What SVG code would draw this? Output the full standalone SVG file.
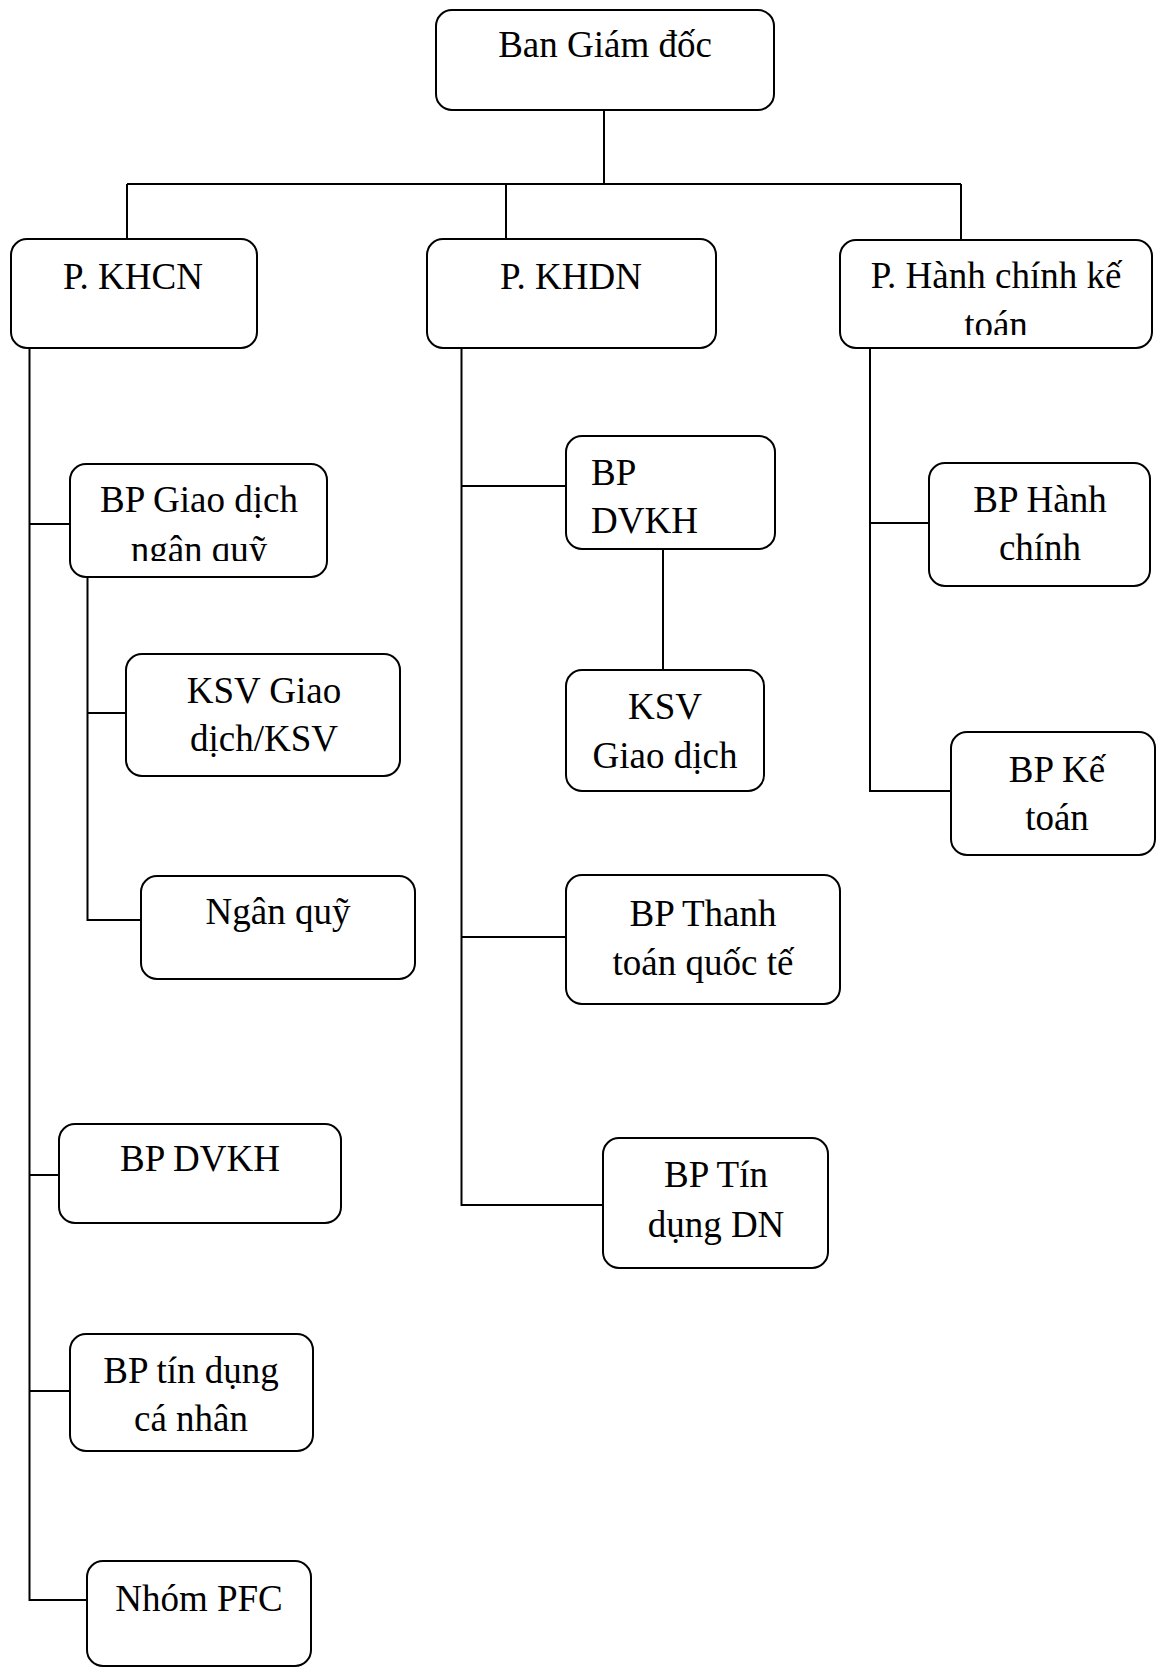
<svg xmlns="http://www.w3.org/2000/svg" width="1157" height="1668" viewBox="0 0 1157 1668">
<style>
.box{fill:#fff;stroke:#000;stroke-width:2}
.c{fill:none;stroke:#000;stroke-width:2}
text{font-family:"Liberation Serif","Times New Roman",serif;font-size:37px;fill:#000}
.m{text-anchor:middle}
</style>
<defs>
<clipPath id="clipGD"><rect x="70" y="464" width="257" height="97"/></clipPath>
<clipPath id="clipHC"><rect x="840" y="240" width="312" height="95"/></clipPath>
</defs>
<rect width="1157" height="1668" fill="#fff"/>
<g id="connectors">
<path class="c" d="M604,110 V184 M127,184 H961 M127,184 V239 M506,184 V239 M961,184 V240"/>
<path class="c" d="M29.5,348 V1600 H87 M29.5,524 H70 M29.5,1175 H59 M29.5,1391 H70"/>
<path class="c" d="M87.5,577 V920 H141 M87.5,713 H126"/>
<path class="c" d="M461.5,348 V1205 H603 M461.5,486 H566 M461.5,937 H566"/>
<path class="c" d="M663,549 V670"/>
<path class="c" d="M870,348 V791 H951 M870,523 H929"/>
</g>
<g id="ban-giam-doc">
<rect class="box" x="436" y="10" width="338" height="100" rx="16"/>
<text class="m" x="605" y="57">Ban Giám đốc</text>
</g>
<g id="p-khcn">
<rect class="box" x="11" y="239" width="246" height="109" rx="16"/>
<text class="m" x="133" y="289">P. KHCN</text>
</g>
<g id="p-khdn">
<rect class="box" x="427" y="239" width="289" height="109" rx="16"/>
<text class="m" x="571" y="289">P. KHDN</text>
</g>
<g id="p-hanh-chinh-ke-toan">
<rect class="box" x="840" y="240" width="312" height="108" rx="16"/>
<g clip-path="url(#clipHC)">
<text class="m" x="996" y="288">P. Hành chính kế</text>
<text class="m" x="996" y="337">toán</text>
</g>
</g>
<g id="bp-giao-dich-ngan-quy">
<rect class="box" x="70" y="464" width="257" height="113" rx="16"/>
<g clip-path="url(#clipGD)">
<text class="m" x="199" y="512">BP Giao dịch</text>
<text class="m" x="199" y="562">ngân quỹ</text>
</g>
</g>
<g id="ksv-giao-dich-ksv">
<rect class="box" x="126" y="654" width="274" height="122" rx="16"/>
<text class="m" x="264" y="703">KSV Giao</text>
<text class="m" x="264" y="751">dịch/KSV</text>
</g>
<g id="ngan-quy">
<rect class="box" x="141" y="876" width="274" height="103" rx="16"/>
<text class="m" x="278" y="924">Ngân quỹ</text>
</g>
<g id="bp-dvkh-khcn">
<rect class="box" x="59" y="1124" width="282" height="99" rx="16"/>
<text class="m" x="200" y="1171">BP DVKH</text>
</g>
<g id="bp-tin-dung-ca-nhan">
<rect class="box" x="70" y="1334" width="243" height="117" rx="16"/>
<text class="m" x="191" y="1383">BP tín dụng</text>
<text class="m" x="191" y="1431">cá nhân</text>
</g>
<g id="nhom-pfc">
<rect class="box" x="87" y="1561" width="224" height="105" rx="16"/>
<text class="m" x="199" y="1611">Nhóm PFC</text>
</g>
<g id="bp-dvkh-khdn">
<rect class="box" x="566" y="436" width="209" height="113" rx="16"/>
<text x="591" y="485">BP</text>
<text x="591" y="533">DVKH</text>
</g>
<g id="ksv-giao-dich">
<rect class="box" x="566" y="670" width="198" height="121" rx="16"/>
<text class="m" x="665" y="719">KSV</text>
<text class="m" x="665" y="768">Giao dịch</text>
</g>
<g id="bp-thanh-toan-quoc-te">
<rect class="box" x="566" y="875" width="274" height="129" rx="16"/>
<text class="m" x="703" y="926">BP Thanh</text>
<text class="m" x="703" y="975">toán quốc tế</text>
</g>
<g id="bp-tin-dung-dn">
<rect class="box" x="603" y="1138" width="225" height="130" rx="16"/>
<text class="m" x="716" y="1187">BP Tín</text>
<text class="m" x="716" y="1237">dụng DN</text>
</g>
<g id="bp-hanh-chinh">
<rect class="box" x="929" y="463" width="221" height="123" rx="16"/>
<text class="m" x="1040" y="512">BP Hành</text>
<text class="m" x="1040" y="560">chính</text>
</g>
<g id="bp-ke-toan">
<rect class="box" x="951" y="732" width="204" height="123" rx="16"/>
<text class="m" x="1057" y="782">BP Kế</text>
<text class="m" x="1057" y="830">toán</text>
</g>
</svg>
